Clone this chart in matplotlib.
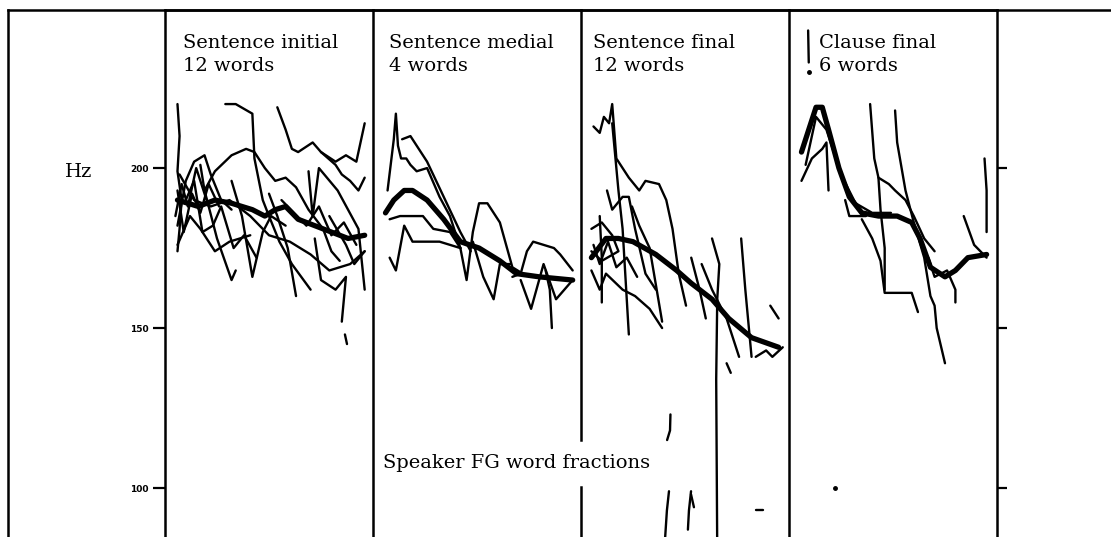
import matplotlib.pyplot as plt

# F0 contours of word fractions; t is the time fraction inside each panel (0-1), hz the pitch
panel_titles = ['Sentence initial\n12 words', 'Sentence medial\n4 words',
                'Sentence final\n12 words', 'Clause final\n6 words']
hz_ticks = [100, 150, 200]
hz_tick_labels = ['100', '150', '200']

initial_mean_t = [.06, .16, .24, .32, .42, .48, .53, .58, .64, .72, .80, .88, .96]
initial_mean_hz = [190, 188, 190, 189, 187, 185, 187, 188, 184, 182, 180, 178, 179]
initial_words = [
    ([.06, .07, .06, .08, .07, .06], [220, 210, 199, 190, 181, 174]),
    ([.29, .34, .42, .43, .47, .50], [220, 220, 217, 203, 190, 185]),
    ([.54, .58, .61, .64, .71, .75, .82, .87, .92, .96], [219, 212, 206, 205, 208, 205, 202, 204, 202, 214]),
    ([.75, .82, .85, .89, .93, .96], [205, 201, 198, 196, 193, 197]),
    ([.19, .24, .32, .39, .43, .48, .53, .58, .63, .69, .76, .80, .84],
     [193, 199, 204, 206, 205, 200, 196, 197, 194, 187, 181, 174, 171]),
    ([.32, .37, .42, .47, .51, .58], [196, 185, 166, 180, 185, 182]),
    ([.17, .19, .25, .32, .34], [201, 193, 178, 165, 168]),
    ([.50, .54, .59, .63], [192, 185, 175, 160]),
    ([.69, .71, .74, .83, .93, .96], [199, 185, 200, 193, 181, 162]),
    ([.72, .75, .82, .87, .85], [178, 165, 162, 166, 152]),
    ([.865, .875], [148, 145]),
    ([.06, .10, .14, .19, .22, .27, .32], [182, 196, 202, 204, 198, 190, 187]),
    ([.06, .12, .17, .24, .31, .41], [176, 185, 181, 174, 177, 179]),
    ([.07, .14, .22, .31, .41, .50, .60, .70, .79, .89, .96],
     [198, 190, 188, 190, 185, 179, 177, 173, 168, 170, 174]),
    ([.50, .55, .61, .70], [185, 177, 170, 162]),
    ([.79, .87, .91, .96], [185, 176, 170, 174]),
    ([.05, .08, .11, .15, .20], [185, 195, 188, 200, 190]),
    ([.06, .09, .13, .17, .21, .26], [193, 180, 192, 186, 195, 188]),
    ([.10, .14, .18, .23, .27, .33, .38, .44], [190, 196, 180, 182, 188, 175, 179, 172]),
    ([.56, .62, .68, .74, .80, .86, .92], [190, 186, 182, 188, 179, 183, 176]),
]

medial_mean_t = [.06, .10, .15, .19, .26, .34, .42, .51, .61, .69, .80, .96]
medial_mean_hz = [186, 190, 193, 193, 190, 184, 177, 175, 171, 167, 166, 165]
medial_words = [
    ([.07, .10, .11, .12, .135, .16, .18, .21, .26, .32, .37, .42],
     [193, 209, 217, 207, 203, 203, 201, 199, 200, 191, 185, 175]),
    ([.14, .18, .26, .34, .42, .47], [209, 210, 202, 191, 180, 174]),
    ([.08, .13, .16, .24, .29, .37, .42], [184, 185, 185, 185, 181, 180, 175]),
    ([.08, .11, .15, .19, .32, .42], [172, 168, 182, 177, 177, 175]),
    ([.42, .45, .48, .51, .55, .61, .67, .72], [175, 165, 180, 189, 189, 183, 169, 167]),
    ([.48, .53, .58, .61, .66], [177, 166, 159, 170, 170]),
    ([.67, .71, .74, .77, .87, .90, .96], [166, 167, 174, 177, 175, 173, 168]),
    ([.71, .76, .82, .88, .96], [165, 156, 170, 159, 165]),
    ([.83, .85, .86], [168, 162, 150]),
]

final_mean_t = [.05, .12, .18, .25, .36, .46, .53, .63, .71, .82, .95]
final_mean_hz = [172, 178, 178, 177, 173, 168, 164, 159, 153, 147, 144]
final_words = [
    ([.06, .09, .11, .135, .15, .17, .23, .28, .31, .375, .41, .44, .47, .505],
     [213, 211, 216, 214, 220, 203, 197, 193, 196, 195, 190, 181, 167, 157]),
    ([.15, .18, .20, .23], [214, 193, 181, 148]),
    ([.125, .15, .20, .23, .26, .31, .36], [193, 187, 191, 191, 181, 167, 162]),
    ([.245, .28, .33, .39], [188, 182, 175, 152]),
    ([.05, .09, .12, .20, .26, .33, .39], [168, 162, 167, 162, 160, 156, 150]),
    ([.09, .10, .10], [185, 172, 158]),
    ([.05, .10, .15, .18, .10, .05], [181, 183, 179, 174, 171, 174]),
    ([.06, .09, .13, .17, .22, .27], [176, 170, 177, 169, 172, 166]),
    ([.53, .57, .60], [172, 162, 153]),
    ([.63, .665, .655, .65, .655], [178, 170, 159, 134, 80]),
    ([.77, .79, .82], [178, 162, 141]),
    ([.58, .63, .70, .76], [170, 162, 153, 141]),
    ([.84, .89, .92, .97], [141, 143, 141, 144]),
    ([.91, .95], [157, 153]),
    ([.70, .72], [139, 136]),
    ([.43, .428, .414], [123, 118, 115]),
    ([.423, .413, .404], [99, 93, 84]),
    ([.529, .519, .514], [99, 93, 87]),
    ([.529, .543], [98, 94]),
    ([.84, .875], [93, 93]),
]

clause_mean_t = [.06, .095, .13, .16, .19, .24, .29, .35, .43, .52, .59, .63, .68, .75, .80, .86, .95]
clause_mean_hz = [205, 212, 219, 219, 212, 200, 191, 186, 185, 185, 183, 178, 169, 166, 168, 172, 173]
clause_words = [
    ([.06, .11, .16, .18, .19], [196, 203, 206, 208, 193]),
    ([.08, .13, .18, .25, .32, .40, .49], [201, 216, 212, 198, 189, 186, 186]),
    ([.27, .29, .37], [190, 185, 185]),
    ([.35, .40, .44, .46, .52, .59, .62], [184, 178, 171, 161, 161, 161, 155]),
    ([.39, .41, .43, .44, .46, .46], [220, 203, 197, 187, 175, 162]),
    ([.43, .48, .51, .56, .60, .65, .70], [197, 195, 193, 190, 185, 178, 174]),
    ([.51, .52, .56, .60, .65, .68, .70, .71, .75], [218, 208, 193, 183, 172, 160, 157, 150, 139]),
    ([.67, .70, .76, .80, .80], [172, 166, 168, 162, 158]),
    ([.84, .89, .95], [185, 176, 172]),
    ([.94, .95, .95], [203, 193, 180]),
    ([.092, .095], [243, 233]),
]
clause_dots_t = [.095, .22]
clause_dots_hz = [230, 100]

panels = [
    (initial_mean_t, initial_mean_hz, initial_words),
    (medial_mean_t, medial_mean_hz, medial_words),
    (final_mean_t, final_mean_hz, final_words),
    (clause_mean_t, clause_mean_hz, clause_words),
]
title_offsets = [18, 16, 12, 30]

W, H = 1111, 537
fig = plt.figure(figsize=(W / 100, H / 100), dpi=100)

# outer frame (left and top only, the scan is cut on the other sides)
frame = fig.add_axes([8 / W, 0, 1 - 8 / W, 1 - 10 / H])
frame.set_xticks([])
frame.set_yticks([])
for side in ['right', 'bottom']:
    frame.spines[side].set_visible(False)
for side in ['left', 'top']:
    frame.spines[side].set_linewidth(1.8)

left0 = 165 / W
pw = 208 / W
top = 1 - 10 / H
for i, (mean_t, mean_hz, words) in enumerate(panels):
    ax = fig.add_axes([left0 + i * pw, 0, pw, top])
    ax.patch.set_alpha(0)
    ax.set_xlim(0, 1)
    ax.set_ylim(84.7, 249.4)
    ax.set_xticks([])
    ax.spines['bottom'].set_visible(False)
    ax.spines['right'].set_visible(i == 3)
    for s in ax.spines.values():
        s.set_linewidth(1.8)

    for t, hz in words:
        ax.plot(t, hz, color='black', lw=1.7, solid_joinstyle='round', solid_capstyle='round')
    ax.plot(mean_t, mean_hz, color='black', lw=3.8, solid_joinstyle='round', solid_capstyle='round')

    if i == 0:
        ax.set_yticks(hz_ticks)
        ax.set_yticklabels(hz_tick_labels, fontsize=6.5, fontweight='bold')
        ax.tick_params(axis='y', direction='out', length=8.5, width=1.6, pad=3)
    elif i == 3:
        ax.yaxis.tick_right()
        ax.set_yticks(hz_ticks)
        ax.tick_params(axis='y', direction='out', length=7, width=1.6, labelright=False)
        ax.plot(clause_dots_t, clause_dots_hz, 'o', color='black', ms=2.5)
    else:
        ax.set_yticks([])

    if i == 2:
        # divider broken where the caption crosses it
        ax.spines['left'].set_visible(False)
        ax.axvline(0, ymin=0, ymax=0.095, color='black', lw=1.8, clip_on=False)
        ax.axvline(0, ymin=0.184, ymax=1, color='black', lw=1.8, clip_on=False)

    fig.text(left0 + i * pw + title_offsets[i] / W, 1 - 34 / H, panel_titles[i], ha='left', va='top',
             fontsize=14, family='DejaVu Serif', linespacing=1.38)

fig.text(383 / W, 1 - 463 / H, 'Speaker FG word fractions', ha='left', va='center',
         fontsize=14, family='DejaVu Serif')
fig.text(65 / W, 1 - 172 / H, 'Hz', ha='left', va='center', fontsize=14, family='DejaVu Serif')

fig.savefig('out.png', dpi=100)
